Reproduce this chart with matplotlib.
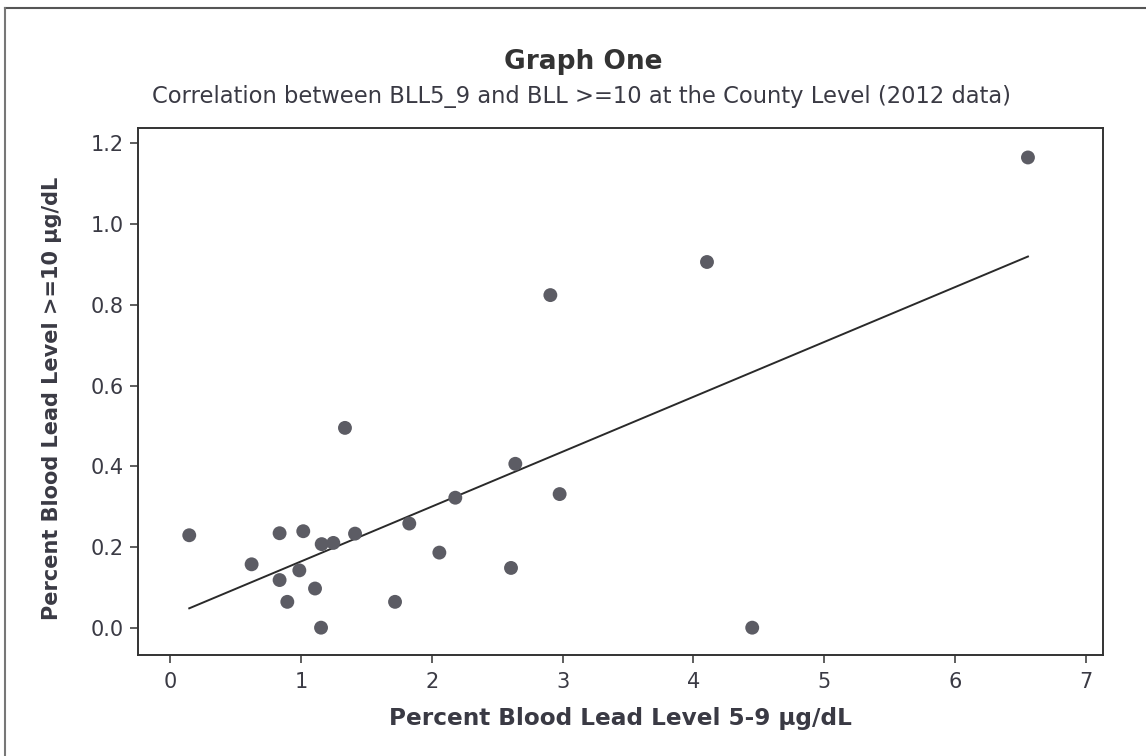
import numpy as np
import matplotlib
matplotlib.use("Agg")
import matplotlib.pyplot as plt
from matplotlib.lines import Line2D

# Data
bll5_9 = [0.144, 0.621, 0.835, 0.835, 0.894, 0.986, 1.016, 1.106, 1.152, 1.157,
          1.246, 1.335, 1.412, 1.718, 1.827, 2.057, 2.179, 2.605, 2.638, 2.906,
          2.977, 4.104, 4.450, 6.559]
bll10 = [0.229, 0.157, 0.234, 0.118, 0.064, 0.142, 0.239, 0.097, 0.000, 0.207,
         0.210, 0.495, 0.233, 0.064, 0.258, 0.186, 0.322, 0.148, 0.406, 0.824,
         0.331, 0.906, 0.000, 1.165]
x_ticks = [0, 1, 2, 3, 4, 5, 6, 7]
y_ticks = [0.0, 0.2, 0.4, 0.6, 0.8, 1.0, 1.2]

title = "Graph One"
subtitle = "Correlation between BLL5_9 and BLL >=10 at the County Level (2012 data)"
xlabel = "Percent Blood Lead Level 5-9 µg/dL"
ylabel = "Percent Blood Lead Level >=10 µg/dL"

txt = "#3a3a44"
plt.rcParams['font.family'] = ['DejaVu Sans']

W, H = 1146, 756
fig = plt.figure(figsize=(W / 100, H / 100), dpi=100)
fig.patch.set_facecolor("white")

ax = fig.add_axes([138 / W, 1 - 655 / H, (1103 - 138) / W, (655 - 128) / H])

x = np.array(bll5_9)
y = np.array(bll10)
slope, intercept = np.polyfit(x, y, 1)
xs = np.array([x.min(), x.max()])
ax.plot(xs, slope * xs + intercept, color="#2a2a2a", lw=1.4, zorder=2)
ax.scatter(x, y, s=100, color="#5c5c64", edgecolors="none", zorder=3)

ax.set_xlim(-0.248, 7.133)
ax.set_ylim(-0.0677, 1.238)
ax.set_xticks(x_ticks)
ax.set_xticklabels([str(v) for v in x_ticks])
ax.set_yticks(y_ticks)
ax.set_yticklabels([f"{v:.1f}" for v in y_ticks])

for s in ax.spines.values():
    s.set_color("#333333")
    s.set_linewidth(1.4)
ax.tick_params(direction="out", length=6, width=1.1, color="#333333",
               labelsize=15, labelcolor=txt, pad=4)
ax.tick_params(axis="x", pad=6)

ax.set_xlabel(xlabel, fontsize=16.7, fontweight="bold", color=txt, va="center")
ax.set_ylabel(ylabel, fontsize=15, fontweight="bold", color=txt, va="center")
ax.xaxis.set_label_coords((620 - 138) / 965, (655 - 718) / 527)
ax.yaxis.set_label_coords((52 - 138) / 965, (655 - 398) / 527)

fig.text(583 / W, 1 - 62 / H, title, ha="center", va="center",
         fontsize=19, fontweight="bold", color="#333333")
fig.text(581 / W, 1 - 97 / H, subtitle, ha="center", va="center",
         fontsize=16.3, color=txt)

# outer frame (top and left edges visible in the scan)
fig.add_artist(Line2D([5 / W, 1.0], [1 - 8 / H, 1 - 8 / H], transform=fig.transFigure,
                      color="#555555", lw=1.5))
fig.add_artist(Line2D([5 / W, 5 / W], [0.0, 1 - 8 / H], transform=fig.transFigure,
                      color="#777777", lw=1.5))

fig.savefig("out.png", dpi=100, facecolor="white")
